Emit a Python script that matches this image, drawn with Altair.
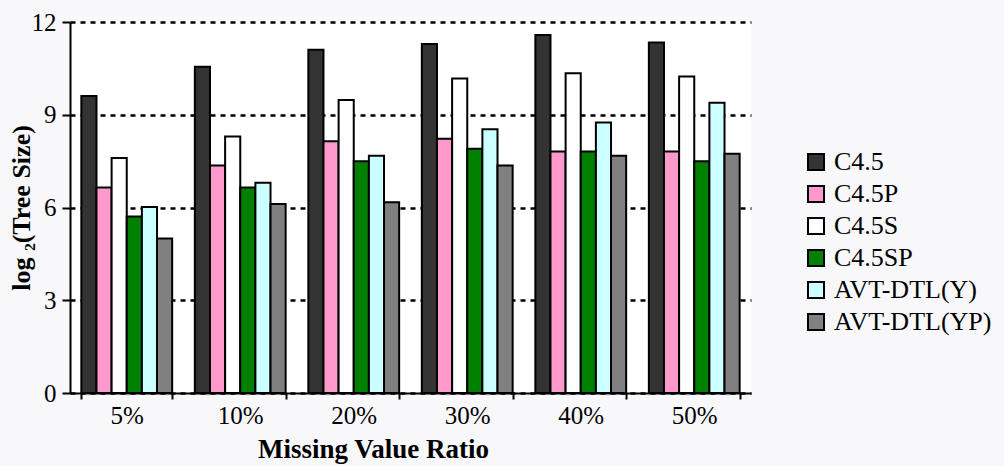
import altair as alt
import pandas as pd

ratios = ["5%", "10%", "20%", "30%", "40%", "50%"]
series = ["C4.5", "C4.5P", "C4.5S", "C4.5SP", "AVT-DTL(Y)", "AVT-DTL(YP)"]
colors = ["#333333", "#ff99cc", "#ffffff", "#008000", "#ccffff", "#808080"]

c45 = [9.61, 10.55, 11.10, 11.29, 11.58, 11.34]
c45p = [6.65, 7.36, 8.14, 8.22, 7.81, 7.81]
c45s = [7.60, 8.30, 9.48, 10.17, 10.34, 10.24]
c45sp = [5.71, 6.65, 7.50, 7.90, 7.81, 7.50]
avt_y = [6.02, 6.80, 7.67, 8.53, 8.75, 9.39]
avt_yp = [5.00, 6.11, 6.17, 7.36, 7.67, 7.74]

values = [c45, c45p, c45s, c45sp, avt_y, avt_yp]
rows = []
for s, vals in zip(series, values):
    for r, v in zip(ratios, vals):
        rows.append({"ratio": r, "series": s, "value": v})
df = pd.DataFrame(rows)

FONT = "Liberation Serif"

chart = alt.Chart(df).mark_bar(stroke="black", strokeWidth=2).encode(
    x=alt.X(
        "ratio:N",
        sort=ratios,
        scale=alt.Scale(paddingInner=0.2, paddingOuter=0.1),
        axis=alt.Axis(
            title="Missing Value Ratio",
            labelAngle=0,
            labelFont=FONT,
            labelFontSize=25,
            labelColor="black",
            labelPadding=4,
            tickBand="extent",
            ticks=True,
            tickSize=6,
            tickColor="black",
            tickWidth=2,
            domainColor="black",
            domainWidth=2,
            titleFont=FONT,
            titleFontSize=27,
            titleFontWeight="bold",
            titleColor="black",
            titlePadding=8,
            titleX=303,
            grid=False,
        ),
    ),
    xOffset=alt.XOffset("series:N", sort=series, scale=alt.Scale(paddingInner=0, paddingOuter=0)),
    y=alt.Y(
        "value:Q",
        scale=alt.Scale(domain=[0, 12], nice=False),
        axis=alt.Axis(
            title="log ₂(Tree Size)",
            values=[0, 3, 6, 9, 12],
            labelFont=FONT,
            labelFontSize=25,
            labelColor="black",
            labelPadding=6,
            tickSize=8,
            tickColor="black",
            tickWidth=2,
            domainColor="black",
            domainWidth=2,
            grid=True,
            gridColor="black",
            gridDash=[5, 5],
            gridWidth=2.5,
            gridOpacity=1,
            titleFont=FONT,
            titleFontSize=26,
            titleFontWeight="bold",
            titleColor="black",
            titleX=-36,
            titleBaseline="bottom",
        ),
    ),
    color=alt.Color(
        "series:N",
        sort=series,
        scale=alt.Scale(domain=series, range=colors),
        legend=alt.Legend(
            title=None,
            orient="none",
            legendX=733,
            legendY=127,
            symbolType="square",
            symbolSize=256,
            symbolStrokeColor="black",
            symbolStrokeWidth=2,
            labelFont=FONT,
            labelFontSize=26,
            labelColor="black",
            labelLimit=400,
            labelOffset=5,
            rowPadding=6,
        ),
    ),
).properties(
    width=681,
    height=371,
    autosize=alt.AutoSizeParams(type="none"),
    padding={"left": 70, "top": 22, "right": 253, "bottom": 73},
    background="#f8f8fb",
).configure_view(
    fill="white",
    stroke=None,
)

chart.save("out.html", embed_options={"renderer": "svg", "actions": False})
